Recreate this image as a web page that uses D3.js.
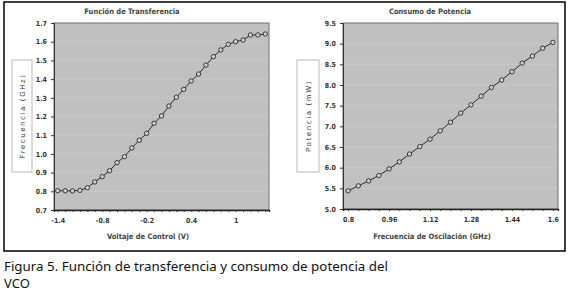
<!DOCTYPE html>
<html>
<head>
<meta charset="utf-8">
<script src="https://cdn.jsdelivr.net/npm/d3@7"></script>
<style>
  body { margin: 0; background: #fff; }
  svg { display: block; }
  .tick text { font-family: "Liberation Sans Narrow", "DejaVu Sans Condensed", "Liberation Sans", sans-serif; font-weight: bold; }
</style>
</head>
<body>
<svg></svg>
<script>
// Función de transferencia: voltaje de control (V) -> frecuencia (GHz)
const voltaje = [-1.4, -1.3, -1.2, -1.1, -1.0, -0.9, -0.8, -0.7, -0.6, -0.5, -0.4, -0.3, -0.2, -0.1, 0,
                 0.1, 0.2, 0.3, 0.4, 0.5, 0.6, 0.7, 0.8, 0.9, 1.0, 1.1, 1.2, 1.3, 1.4];
const frecuencia = [0.803, 0.803, 0.802, 0.805, 0.819, 0.85, 0.878, 0.91, 0.953, 0.985, 1.032, 1.073, 1.11, 1.164, 1.203,
                    1.256, 1.303, 1.345, 1.39, 1.427, 1.475, 1.52, 1.556, 1.586, 1.60, 1.609, 1.636, 1.636, 1.641];
const ticksVoltaje = [-1.4, -0.8, -0.2, 0.4, 1];
const ticksFrecuencia = [0.7, 0.8, 0.9, 1.0, 1.1, 1.2, 1.3, 1.4, 1.5, 1.6, 1.7];

// Consumo de potencia: frecuencia de oscilación (GHz) -> potencia (mW)
const frecOscilacion = [0.8, 0.84, 0.88, 0.92, 0.96, 1.0, 1.04, 1.08, 1.12, 1.16, 1.2,
                        1.24, 1.28, 1.32, 1.36, 1.4, 1.44, 1.48, 1.52, 1.56, 1.6];
const potencia = [5.44, 5.56, 5.68, 5.81, 5.97, 6.14, 6.33, 6.51, 6.69, 6.89, 7.10,
                  7.32, 7.52, 7.73, 7.94, 8.12, 8.32, 8.53, 8.70, 8.89, 9.03];
const ticksOscilacion = [0.8, 0.96, 1.12, 1.28, 1.44, 1.6];
const ticksPotencia = [5.0, 5.5, 6.0, 6.5, 7.0, 7.5, 8.0, 8.5, 9.0, 9.5];

const width = 568;
const height = 293;

const svg = d3.select("svg").attr("width", width).attr("height", height);
svg.append("rect").attr("width", width).attr("height", height).attr("fill", "#fff");

// outer frame
svg.append("rect")
    .attr("x", 4).attr("y", 2)
    .attr("width", 561).attr("height", 249)
    .attr("fill", "none")
    .attr("stroke", "#000")
    .attr("stroke-width", 1.5);

function panel(o) {
    const g = svg.append("g");
    const x = d3.scaleLinear().domain(o.xDomain).range([o.left, o.right]);
    const y = d3.scaleLinear().domain(o.yDomain).range([o.bottom, o.top]);

    // plot area
    g.append("rect")
        .attr("x", o.left).attr("y", o.top)
        .attr("width", o.right - o.left).attr("height", o.bottom - o.top)
        .attr("fill", "#c0c0c0")
        .attr("stroke", "#707070")
        .attr("stroke-width", 1);

    // gridlines
    g.append("g")
        .selectAll("line")
        .data(o.yTicks.slice(1, -1))
        .join("line")
        .attr("x1", o.left).attr("x2", o.right)
        .attr("y1", d => y(d)).attr("y2", d => y(d))
        .attr("stroke", "#d6d6d6")
        .attr("stroke-width", 0.8)
        .attr("stroke-dasharray", "2,2");

    // y axis
    const yAxis = g.append("g")
        .attr("transform", `translate(${o.left},0)`)
        .call(d3.axisLeft(y).tickValues(o.yTicks).tickFormat(d3.format(".1f")).tickSize(3).tickPadding(4));
    yAxis.select(".domain").attr("stroke", "#333");
    yAxis.selectAll(".tick line").attr("stroke", "#333");
    yAxis.selectAll(".tick text").attr("font-size", 7).attr("fill", "#333");

    // x axis: small tick at every category, labels on a few
    const xAxisMinor = g.append("g")
        .attr("transform", `translate(0,${o.bottom})`)
        .call(d3.axisBottom(x).tickValues(o.xs).tickFormat("").tickSize(2));
    xAxisMinor.select(".domain").attr("stroke", "#222").attr("stroke-width", 1.3);
    xAxisMinor.selectAll(".tick line").attr("stroke", "#333");

    const xAxis = g.append("g")
        .attr("transform", `translate(0,${o.bottom})`)
        .call(d3.axisBottom(x).tickValues(o.xTicks).tickFormat(d => String(d)).tickSize(0).tickPadding(8));
    xAxis.select(".domain").remove();
    xAxis.selectAll(".tick text").attr("font-size", 7).attr("fill", "#333");

    // series
    const pts = o.xs.map((v, i) => [v, o.ys[i]]);
    g.append("path")
        .datum(pts)
        .attr("fill", "none")
        .attr("stroke", "#2a2a2a")
        .attr("stroke-width", 1)
        .attr("d", d3.line().x(d => x(d[0])).y(d => y(d[1])));
    g.append("g")
        .selectAll("circle")
        .data(pts)
        .join("circle")
        .attr("cx", d => x(d[0]))
        .attr("cy", d => y(d[1]))
        .attr("r", 2.2)
        .attr("fill", "#cfcfcf")
        .attr("stroke", "#2a2a2a")
        .attr("stroke-width", 0.9);

    // chart title
    g.append("text")
        .attr("x", o.titleX).attr("y", 14)
        .attr("text-anchor", "middle")
        .attr("font-family", "'Liberation Sans Narrow', 'DejaVu Sans Condensed', sans-serif")
        .attr("font-weight", "bold")
        .attr("font-size", 7.5)
        .attr("fill", "#444")
        .text(o.title);

    // x axis title
    g.append("text")
        .attr("x", o.xTitleX).attr("y", 239)
        .attr("text-anchor", "middle")
        .attr("font-family", "'Liberation Sans Narrow', 'DejaVu Sans Condensed', sans-serif")
        .attr("font-weight", "bold")
        .attr("font-size", 7.5)
        .attr("fill", "#444")
        .text(o.xTitle);

    // y axis title in a box
    g.append("rect")
        .attr("x", o.boxX).attr("y", 60)
        .attr("width", o.boxW).attr("height", 112)
        .attr("fill", "#fff")
        .attr("stroke", "#a8a8a8")
        .attr("stroke-width", 0.8);
    g.append("text")
        .attr("transform", `translate(${o.boxX + o.boxW / 2 + 2.5},116) rotate(-90)`)
        .attr("text-anchor", "middle")
        .attr("font-family", "'DejaVu Sans', sans-serif")
        .attr("font-size", 7)
        .attr("letter-spacing", 1.6)
        .attr("fill", "#333")
        .text(o.yTitle);
}

panel({
    xs: voltaje, ys: frecuencia,
    xDomain: [-1.45, 1.45], yDomain: [0.7, 1.7],
    xTicks: ticksVoltaje, yTicks: ticksFrecuencia,
    left: 54, right: 269, top: 23, bottom: 210,
    title: "Función de Transferencia", titleX: 132,
    xTitle: "Voltaje de Control (V)", xTitleX: 148,
    yTitle: "Frecuencia (GHz)", boxX: 12, boxW: 20
});

panel({
    xs: frecOscilacion, ys: potencia,
    xDomain: [0.78, 1.62], yDomain: [5.0, 9.5],
    xTicks: ticksOscilacion, yTicks: ticksPotencia,
    left: 343, right: 558, top: 23, bottom: 209,
    title: "Consumo de Potencia", titleX: 430,
    xTitle: "Frecuencia de Oscilación (GHz)", xTitleX: 432,
    yTitle: "Potencia (mW)", boxX: 297, boxW: 22
});

// caption
const caption = svg.append("g")
    .attr("font-family", "'Noto Sans', 'DejaVu Sans', sans-serif")
    .attr("font-size", 13)
    .attr("fill", "#111");
caption.append("text").attr("x", 4).attr("y", 271)
    .attr("textLength", 384).attr("lengthAdjust", "spacingAndGlyphs")
    .text("Figura 5. Función de transferencia y consumo de potencia del");
caption.append("text").attr("x", 4).attr("y", 288).text("VCO");
</script>
</body>
</html>
